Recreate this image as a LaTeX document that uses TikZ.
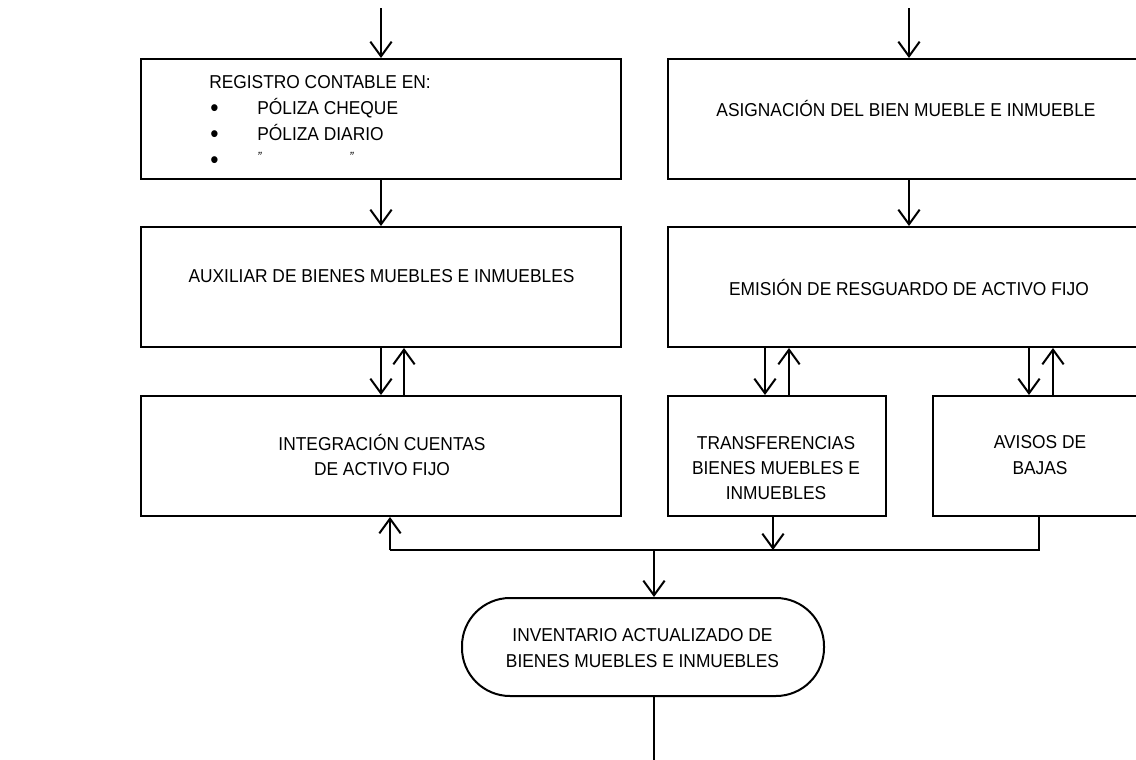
\documentclass[tikz,border=0pt]{standalone}
\usepackage{fontspec}
\setmainfont[FakeStretch=0.93]{Liberation Sans}
\usetikzlibrary{arrows.meta}
\newcommand{\bigbul}{\hspace{3pt}\makebox[35.25pt][l]{\raisebox{-1pt}{\fontsize{19pt}{19pt}\selectfont•}}}
\begin{document}
\begin{tikzpicture}[x=0.75pt,y=-0.75pt,
  box/.style={draw,line width=1.5pt,rectangle,inner sep=0pt},
  term/.style={draw,line width=1.5pt,rectangle,rounded corners=36pt,inner sep=0pt},
  txt/.style={align=center,font=\fontsize{14pt}{19pt}\selectfont,inner sep=0pt},
  lst/.style={align=left,font=\fontsize{14pt}{19.5pt}\selectfont,inner sep=0pt},
  arr/.style={line width=1.5pt,-{Straight Barb[length=11pt,width=16pt,line width=1.5pt]}},
  ln/.style={line width=1.5pt}]
\useasboundingbox (0,0) rectangle (1136,760);
\clip (0,0) rectangle (1136,760);

% row 1
\node[box,minimum width=360pt,minimum height=90pt] (b1) at (381,119) {};
\node[lst,anchor=west] (t1) at (206,122) {\hspace{2.25pt}REGISTRO CONTABLE EN:\\
\bigbul PÓLIZA CHEQUE\\
\bigbul PÓLIZA DIARIO\\
\bigbul\raisebox{4pt}{\fontsize{10pt}{10pt}\itshape"}\hspace{66pt}\raisebox{4pt}{\fontsize{10pt}{10pt}\itshape"}};
\node[box,minimum width=361.5pt,minimum height=90pt] (b2) at (909,119) {};
\node[txt] (t2) at (906,108) {ASIGNACIÓN DEL BIEN MUEBLE E INMUEBLE};

% row 2
\node[box,minimum width=360pt,minimum height=90pt] (b3) at (381,287) {};
\node[txt] (t3) at (381.5,276) {AUXILIAR DE BIENES MUEBLES E INMUEBLES};
\node[box,minimum width=361.5pt,minimum height=90pt] (b4) at (909,287) {};
\node[txt] (t4) at (909,287) {EMISIÓN DE RESGUARDO DE ACTIVO FIJO};

% row 3
\node[box,minimum width=360pt,minimum height=90pt] (b5) at (381,456) {};
\node[txt] (t5) at (382,455) {INTEGRACIÓN CUENTAS\\DE ACTIVO FIJO};
\node[box,minimum width=163.5pt,minimum height=90pt] (b6) at (777,456) {};
\node[txt] (t6) at (776,468) {TRANSFERENCIAS\\BIENES MUEBLES E\\INMUEBLES};
\node[box,minimum width=159pt,minimum height=90pt] (b7) at (1039,456) {};
\node[txt] (t7) at (1040,455) {AVISOS DE\\BAJAS};

% terminal
\node[term,minimum width=271.5pt,minimum height=73.5pt] (t) at (643,647) {};
\node[txt] (tt) at (642.5,648) {INVENTARIO ACTUALIZADO DE\\BIENES MUEBLES E INMUEBLES};

% top entries
\coordinate (s1) at (381,8);
\coordinate (s2) at (909,8);
\draw[arr] (s1) -- (s1 |- b1.north);
\draw[arr] (s2) -- (s2 |- b2.north);

% row1 -> row2
\draw[arr] (b1.south) -- (b3.north);
\draw[arr] (b2.south) -- (b4.north);

% row2 <-> row3
\draw[arr] (b3.south) -- (b5.north);
\draw[arr] ([xshift=17.25pt]b5.north) -- ([xshift=17.25pt]b3.south);
\coordinate (m1) at ([xshift=-9pt]b6.north);
\coordinate (m2) at ([xshift=9pt]b6.north);
\draw[arr] (m1 |- b4.south) -- (m1);
\draw[arr] (m2) -- (m2 |- b4.south);
\coordinate (r1) at ([xshift=-7.5pt]b7.north);
\coordinate (r2) at ([xshift=10.5pt]b7.north);
\draw[arr] (r1 |- b4.south) -- (r1);
\draw[arr] (r2) -- (r2 |- b4.south);

% bottom collector
\coordinate (jl) at (390,550);
\coordinate (j) at (654,550);
\coordinate (jr) at (1039,550);
\draw[ln] (b7.south) -- (jr) -- (jl);
\draw[arr] (jl) -- (jl |- b5.south);
\draw[arr] ([xshift=-3pt]b6.south) -- ([xshift=-3pt]b6.south |- j);
\draw[arr] (j) -- (j |- t.north);
\coordinate (e) at (654,760);
\draw[ln] (j |- t.south) -- (e);
\end{tikzpicture}
\end{document}
